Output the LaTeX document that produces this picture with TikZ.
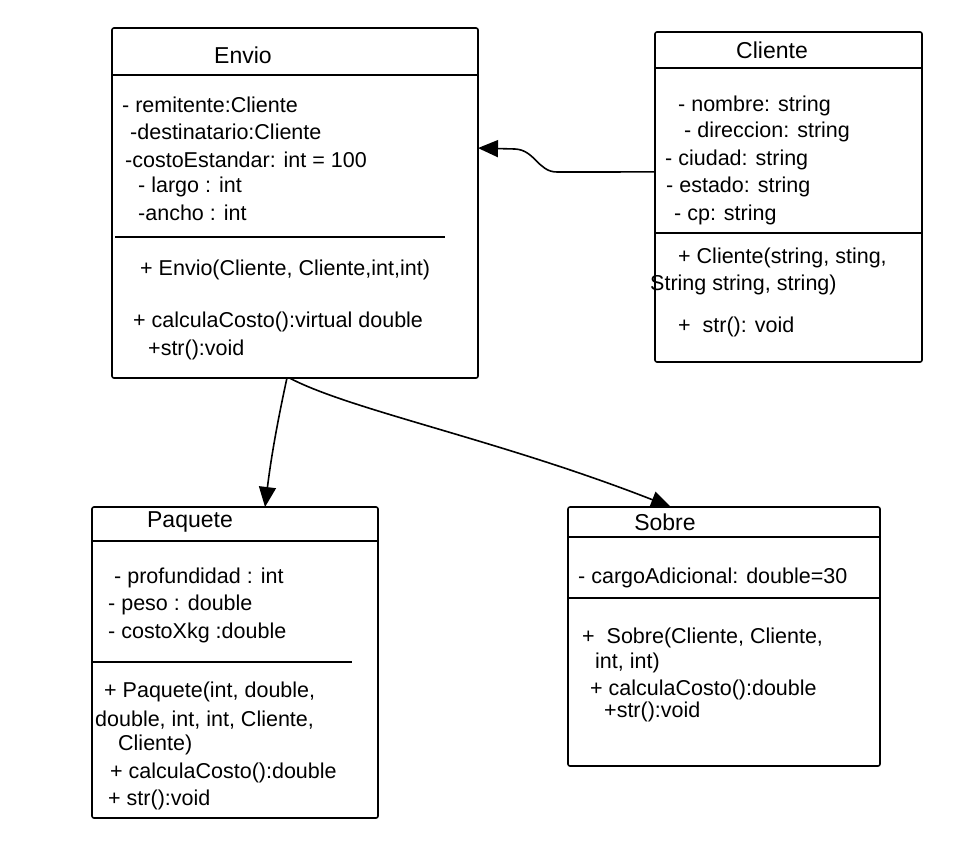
\documentclass[tikz,border=0pt]{standalone}
\usepackage{fontspec}
\setmainfont{Liberation Sans}
\usetikzlibrary{arrows.meta,calc}
\begin{document}
\begin{tikzpicture}[x=1pt,y=-1pt,
  box/.style={draw,line width=1.6pt,rounded corners=2pt,inner sep=0pt,outer sep=0pt},
  sep/.style={line width=1.4pt},
  txt/.style={anchor=west,inner sep=0pt,font=\fontsize{21.5}{24}\selectfont},
  ttl/.style={anchor=center,inner sep=0pt,font=\fontsize{23}{26}\selectfont},
  arr/.style={line width=1.6pt,-{Triangle[length=20pt,width=17pt]}}]
\useasboundingbox (0,0) rectangle (976,862);

% class boxes
\node[box,minimum width=366pt,minimum height=350pt] (env) at (295,203) {};
\node[box,minimum width=267pt,minimum height=330pt] (cli) at (788.5,197) {};
\node[box,minimum width=286pt,minimum height=311pt] (paq) at (235,662.5) {};
\node[box,minimum width=312pt,minimum height=259pt] (sob) at (724,636.5) {};

% compartment lines
\draw[sep] ([shift={(0,47)}]env.north west) -- ([shift={(0,47)}]env.north east);
\draw[sep] ([shift={(3,209)}]env.north west) -- ([shift={(333,209)}]env.north west);
\draw[sep] ([shift={(0,36)}]cli.north west) -- ([shift={(0,36)}]cli.north east);
\draw[sep] ([shift={(0,201)}]cli.north west) -- ([shift={(0,201)}]cli.north east);
\draw[sep] ([shift={(0,34)}]paq.north west) -- ([shift={(0,34)}]paq.north east);
\draw[sep] ([shift={(0,155)}]paq.north west) -- ([shift={(260,155)}]paq.north west);
\draw[sep] ([shift={(0,30)}]sob.north west) -- ([shift={(0,30)}]sob.north east);
\draw[sep] ([shift={(0,91)}]sob.north west) -- ([shift={(0,91)}]sob.north east);

% Envio
\node[ttl] (envT) at (243,55) {Envio};
\node[txt] (envA1) at (122,105) {- remitente:Cliente};
\node[txt] (envA2) at (130,132) {-destinatario:Cliente};
\node[txt] (envA3) at (125,160) {-costoEstandar: int = 100};
\node[txt] (envA4) at (138,187) {- largo : int};
\node[txt] (envA5) at (138,213) {-ancho : int};
\node[txt] (envM1) at (140,270) {+ Envio(Cliente, Cliente,int,int)};
\node[txt] (envM2) at (133,322) {+ calculaCosto():virtual double};
\node[txt] (envM3) at (148,350) {+str():void};

% Cliente
\node[ttl] (cliT) at (772,50) {Cliente};
\node[txt] (cliA1) at (678,106) {- nombre: string};
\node[txt] (cliA2) at (684,132) {- direccion: string};
\node[txt] (cliA3) at (665,160) {- ciudad: string};
\node[txt] (cliA4) at (666,187) {- estado: string};
\node[txt] (cliA5) at (674,215) {- cp: string};
\node[txt] (cliM1) at (678,258) {+ Cliente(string, sting,};
\node[txt] (cliM2) at (650,285) {String string, string)};
\node[txt] (cliM3) at (678,327) {+ \ str(): void};

% Paquete
\node[ttl] (paqT) at (190,522) {Paquete};
\node[txt] (paqA1) at (114,578) {- profundidad : int};
\node[txt] (paqA2) at (108,605) {- peso : double};
\node[txt] (paqA3) at (108,633) {- costoXkg :double};
\node[txt] (paqM1) at (104,692) {+ Paquete(int, double,};
\node[txt] (paqM2) at (95,720) {double, int, int, Cliente,};
\node[txt] (paqM3) at (118,745) {Cliente)};
\node[txt] (paqM4) at (110,773) {+ calculaCosto():double};
\node[txt] (paqM5) at (108,800) {+ str():void};

% Sobre
\node[ttl] (sobT) at (665,522) {Sobre};
\node[txt] (sobA1) at (578,578) {- cargoAdicional: double=30};
\node[txt] (sobM1) at (582,638) {+ \ Sobre(Cliente, Cliente,};
\node[txt] (sobM2) at (595,663) {int, int)};
\node[txt] (sobM3) at (590,690) {+ calculaCosto():double};
\node[txt] (sobM4) at (604,712) {+str():void};

% connector end points on the box edges
\coordinate (cliOut) at ($(cli.north west)!0.424!(cli.south west)$);
\coordinate (envIn) at ($(env.north east)!0.343!(env.south east)$);
\coordinate (envOutA) at ($(env.south west)!0.478!(env.south east)$);
\coordinate (envOutB) at ($(env.south west)!0.485!(env.south east)$);
\coordinate (paqIn) at ($(paq.north west)!0.605!(paq.north east)$);
\coordinate (sobIn) at ($(sob.north west)!0.33!(sob.north east)$);

% associations and inheritance
\draw[arr] (cliOut) -- (557,172) .. controls (538,172) and (535,150) .. (515,149) -- (envIn);
\draw[arr] (envOutA) .. controls (280,410) and (272,450) .. (paqIn);
\draw[arr] (envOutB) .. controls (350,410) and (500,440) .. (sobIn);
\end{tikzpicture}
\end{document}
